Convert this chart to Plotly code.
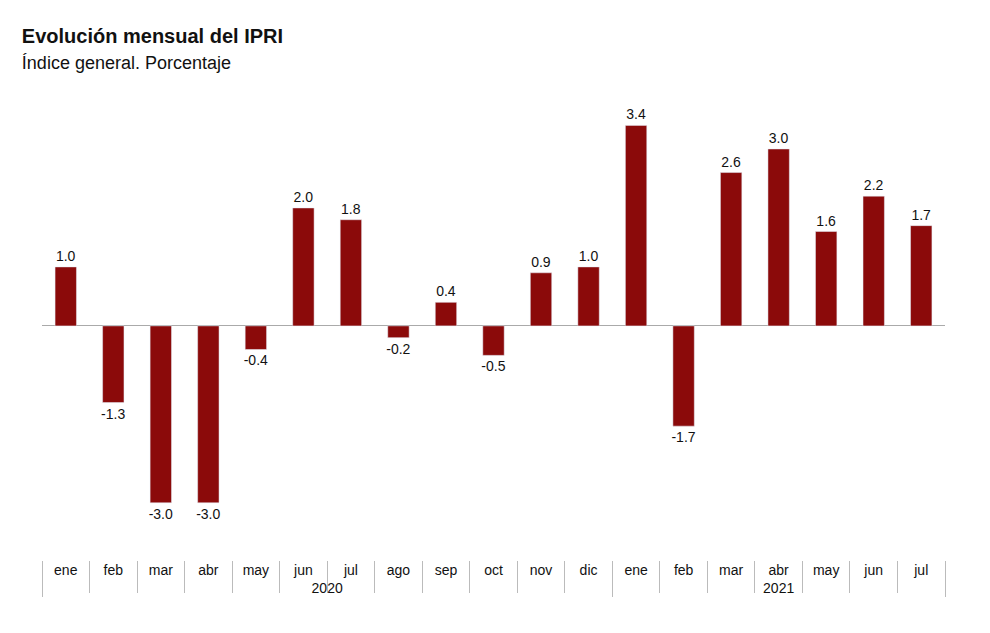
import plotly.graph_objects as go

years = ["2020"] * 12 + ["2021"] * 7
months = ["ene", "feb", "mar", "abr", "may", "jun", "jul", "ago", "sep", "oct", "nov", "dic",
          "ene", "feb", "mar", "abr", "may", "jun", "jul"]
values = [1.0, -1.3, -3.0, -3.0, -0.4, 2.0, 1.8, -0.2, 0.4, -0.5, 0.9, 1.0,
          3.4, -1.7, 2.6, 3.0, 1.6, 2.2, 1.7]

fig = go.Figure(go.Bar(
    x=[years, months],
    y=values,
    marker_color="#8B0A0A",
    text=[f"{v:.1f}" for v in values],
    textposition="outside",
    textfont=dict(size=14, color="#111111"),
    cliponaxis=False,
))

fig.update_layout(
    width=990, height=633,
    margin=dict(l=34, r=53, t=82, b=81),
    plot_bgcolor="white", paper_bgcolor="white",
    font=dict(family="Liberation Sans, Arial", size=14, color="#111111"),
    bargap=0.55,
    showlegend=False,
    uniformtext=dict(minsize=14, mode="show"),
    title=dict(
        text="<b>Evolución mensual del IPRI</b><br><span style='font-size:18px'>Índice general. Porcentaje</span>",
        x=0.014, xanchor="left", y=0.944, yanchor="top",
        font=dict(size=20, color="#111111"),
    ),
)
fig.update_xaxes(
    type="multicategory", showgrid=False, showline=False,
    ticks="outside", ticklen=32, tickcolor="#BBBBBB",
    showdividers=True, dividercolor="#BBBBBB", dividerwidth=1,
    tickfont=dict(size=14),
)
fig.update_yaxes(
    range=[-3.97, 4.0], showgrid=False, showticklabels=False,
    zeroline=True, zerolinecolor="#AAAAAA", zerolinewidth=1,
)

fig.write_html("out.html")
